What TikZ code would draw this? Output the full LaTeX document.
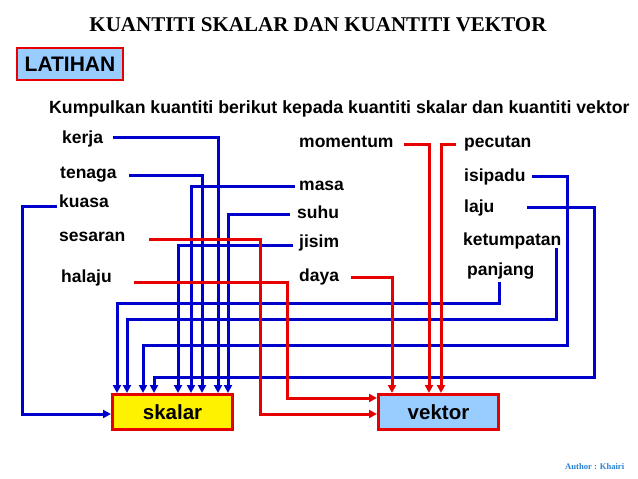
\documentclass[tikz,border=0pt]{standalone}
\usepackage{fontspec}
\setmainfont{Liberation Serif}
\setsansfont{Liberation Sans}
\usetikzlibrary{arrows.meta,positioning,calc}

\definecolor{lineblue}{RGB}{0,0,204}
\definecolor{linered}{RGB}{230,0,0}
\definecolor{boxblue}{RGB}{153,204,255}
\definecolor{authorblue}{RGB}{40,130,210}

\tikzset{
  lbl/.style={anchor=mid west, inner sep=0pt, font=\sffamily\bfseries\fontsize{17.5}{20}\selectfont},
  bline/.style={lineblue, line width=3pt},
  rline/.style={linered, line width=3pt},
  arr/.style={-{Triangle[length=8pt,width=8pt]}},
  kotak/.style={draw=linered, line width=3pt, minimum width=120pt, minimum height=35pt,
    inner sep=0pt, font=\sffamily\bfseries\fontsize{20.5}{24}\selectfont},
}

\begin{document}
\begin{tikzpicture}[x=1pt,y=-1pt]
\useasboundingbox (0,0) rectangle (638,479);
% tajuk
\node[anchor=base, inner sep=0pt, font=\bfseries\fontsize{21}{24}\selectfont] (judul) at (318,31) {KUANTITI SKALAR DAN KUANTITI VEKTOR};
\node[draw=linered, fill=boxblue, line width=2.5pt, minimum width=106pt, minimum height=32pt, inner sep=0pt,
  font=\sffamily\bfseries\fontsize{21}{24}\selectfont] (latihan) at (70,64) {LATIHAN};
\node[anchor=base west, inner sep=0pt, font=\sffamily\bfseries\fontsize{17.7}{20}\selectfont] (soalan) at (49,113)
  {Kumpulkan kuantiti berikut kepada kuantiti skalar dan kuantiti vektor};

% kotak jawapan
\node[kotak, fill=yellow] (skalar) at (172.5,412) {skalar};
\node[kotak, fill=boxblue] (vektor) at (438.5,412) {vektor};

% kuantiti
\foreach \n/\x/\y in {kerja/62/141, tenaga/60/176, kuasa/59/205, sesaran/59/239, halaju/61/280,
    momentum/299/145, masa/299/188, suhu/297/216, jisim/299/245, daya/299/279,
    pecutan/464/145, isipadu/464/179, laju/464/210, ketumpatan/463/243, panjang/467/273}
  \node[lbl] (\n) at (\x,\y) {\n};

% hujung garisan
\foreach \n/\x/\y in {kerja/113/137, tenaga/129/175, kuasa/57/206, sesaran/149/239, halaju/134/282,
    momentum/404/144, masa/295/186, suhu/290/214, jisim/293/245, daya/351/277,
    pecutan/456/144, isipadu/532/176, laju/527/207, ketumpatan/556/248, panjang/499/282}
  \coordinate (\n-s) at (\x,\y);
\foreach \n/\dx in {panjang/6, ketumpatan/16, isipadu/32, laju/43, jisim/67, masa/80, tenaga/91, kerja/107, suhu/117}
  \path (skalar.north west) ++(\dx,0) coordinate (\n-in);
\foreach \n/\dx in {daya/15, momentum/52, pecutan/64}
  \path (vektor.north west) ++(\dx,0) coordinate (\n-in);
\coordinate (kuasa-c) at (22,414);
\coordinate (sesaran-c) at (260.5,414);
\coordinate (halaju-c) at (287,398);
\coordinate (panjang-c) at (499,303);
\coordinate (ketumpatan-c) at (556,319);
\coordinate (isipadu-c) at (567,345);
\coordinate (laju-c) at (594,377);

% skalar
\foreach \n in {kerja, tenaga, masa, suhu, jisim}
  \draw[bline, arr] (\n-s) -| (\n-in);
\foreach \n in {panjang, ketumpatan, isipadu, laju}
  \draw[bline, arr] (\n-s) -| (\n-c) -| (\n-in);
\draw[bline, arr] (kuasa-s) -| (kuasa-c) -- (skalar.west |- kuasa-c);

% vektor
\foreach \n in {daya, momentum, pecutan}
  \draw[rline, arr] (\n-s) -| (\n-in);
\foreach \n in {sesaran, halaju}
  \draw[rline, arr] (\n-s) -| (\n-c) -- (vektor.west |- \n-c);

\node[anchor=base west, inner sep=0pt, text=authorblue, font=\bfseries\fontsize{8.6}{10}\selectfont] (penulis) at (565,469) {Author : Khairi};
\end{tikzpicture}
\end{document}
